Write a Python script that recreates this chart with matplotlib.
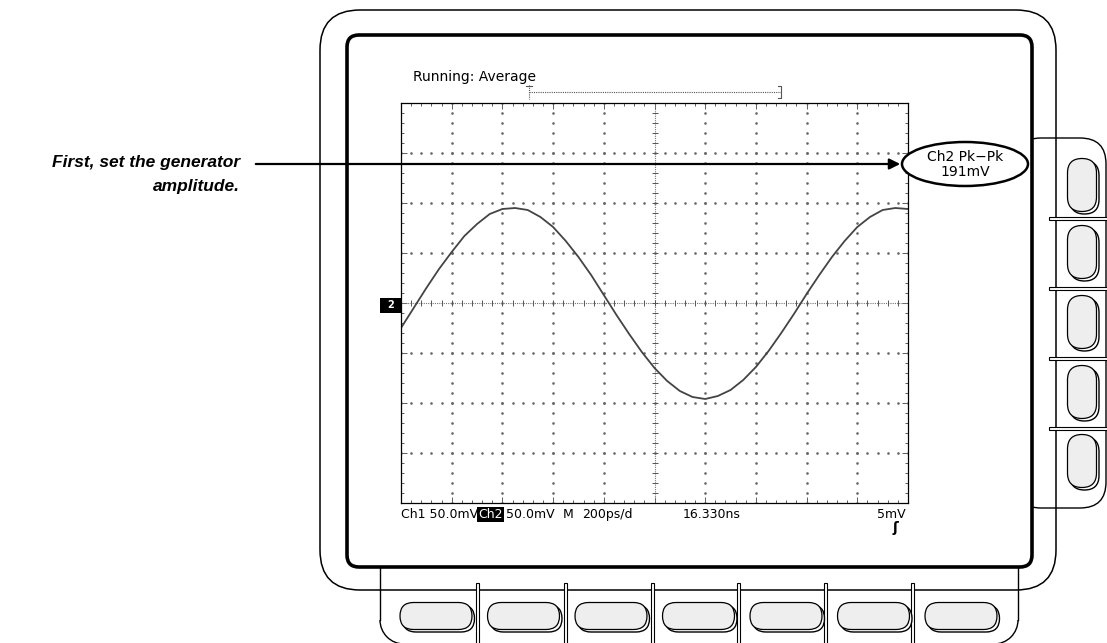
import matplotlib.pyplot as plt
import numpy as np
from matplotlib.patches import FancyBboxPatch, Ellipse, Rectangle, Arc

# Ch2 trace: 200 ps/div, 50 mV/div
time_ps = np.arange(0, 2001, 50)
ch2_mv = [-25, -5, 15, 34, 51, 67, 79, 89, 94, 95, 93, 86, 76, 62, 46, 28, 8,
          -12, -31, -49, -65, -78, -88, -94, -96, -93, -87, -77, -64, -48, -30,
          -11, 9, 28, 46, 62, 76, 86, 93, 95, 94]

acq_label = "Running: Average"
ch1_label = "Ch1 50.0mV"
ch2_scale = "50.0mV"
time_scale = "200ps/d"
delay_label = "16.330ns"
trig_level = "5mV"
meas_label = "Ch2 Pk\u2212Pk"
meas_value = "191mV"
callout_lines = ["First, set the generator", "amplitude."]

W, H = 1107, 643
fig = plt.figure(figsize=(W / 100, H / 100), dpi=100)
fig.patch.set_facecolor("white")

# background layer in pixel units for the instrument outline
bg = fig.add_axes([0, 0, 1, 1])
bg.set_xlim(0, W)
bg.set_ylim(H, 0)
bg.axis("off")


def rbox(ax, x0, y0, x1, y1, r, lw, fc="none", z=1):
    p = FancyBboxPatch((x0, y0), x1 - x0, y1 - y0,
                       boxstyle=f"round,pad=0,rounding_size={r}",
                       lw=lw, ec="black", fc=fc, zorder=z)
    ax.add_patch(p)


def pill(ax, cx, cy, w, h):
    r = min(w, h) / 2
    rbox(ax, cx - w / 2 + 2.5, cy - h / 2 + 2.5, cx + w / 2 + 2.5, cy + h / 2 + 2.5, r, 1.0, fc="white", z=5)
    rbox(ax, cx - w / 2, cy - h / 2, cx + w / 2, cy + h / 2, r, 0.9, fc="#eeeeee", z=6)


# outer case and side button panel
rbox(bg, 320, 10, 1056, 590, 40, 1.1, z=2)
rbox(bg, 1015, 138, 1106, 508, 26, 1.0, z=1)

# bottom button panel, runs off the lower edge
bl, br, rr = 380, 1018, 24
bg.plot([bl, bl], [560, 620], color="black", lw=1.0, zorder=1)
bg.plot([br, br], [560, 620], color="black", lw=1.0, zorder=1)
bg.add_patch(Arc((bl + rr, 620), 2 * rr, 2 * rr, theta1=90, theta2=180, lw=1.0, zorder=1))
bg.add_patch(Arc((br - rr, 620), 2 * rr, 2 * rr, theta1=0, theta2=90, lw=1.0, zorder=1))

# inner bezel
rbox(bg, 347, 35, 1032, 567, 12, 2.6, fc="white", z=3)

for x in [477, 565, 652, 738, 825, 912]:
    bg.add_patch(Rectangle((x - 1.5, 583), 3, 70, lw=0.8, ec="black", fc="white", zorder=4))
for y in [218, 288, 358, 428]:
    bg.add_patch(Rectangle((1049, y - 1.5), 70, 3, lw=0.8, ec="black", fc="white", zorder=4))

for i in range(7):
    pill(bg, 436 + 87.5 * i, 616, 72, 27)
for cy in [185, 252, 322, 392, 461]:
    pill(bg, 1082, cy, 29, 53)

# record view bracket above the graticule
bg.plot([529, 781], [92, 92], color="#555555", lw=0.8, ls=(0, (1, 1)), zorder=5)
bg.plot([529, 529], [85, 99], color="#555555", lw=0.8, ls=(0, (1, 1)), zorder=5)
bg.plot([526, 532], [86, 86], color="#555555", lw=0.8, zorder=5)
bg.plot([778, 781, 781, 778], [86, 86, 98, 98], color="#555555", lw=0.8, zorder=5)
bg.text(413, 77, acq_label, fontsize=10, va="center", ha="left", zorder=5)

# graticule: 10 x 8 divisions
scr = fig.add_axes([401 / W, 1 - 503 / H, 507 / W, 400 / H])
scr.set_xlim(0, 2000)
scr.set_ylim(-200, 200)
scr.set_xticks(np.arange(0, 2001, 200))
scr.set_xticks(np.arange(0, 2001, 40), minor=True)
scr.set_yticks(np.arange(-200, 201, 50))
scr.set_yticks(np.arange(-200, 201, 10), minor=True)
scr.tick_params(which="both", direction="in", top=True, right=True,
                labelbottom=False, labelleft=False, color="#444444", width=0.6)
scr.tick_params(which="major", length=4)
scr.tick_params(which="minor", length=2)
for s in scr.spines.values():
    s.set_linewidth(0.9)

minor_x = np.arange(0, 2001, 40)
minor_y = np.arange(-200, 201, 10)
for gx in range(200, 2000, 200):
    if gx != 1000:
        scr.plot(np.full(len(minor_y), gx), minor_y, ls="none", marker="s", ms=0.8, color="#666666")
for gy in range(-150, 200, 50):
    if gy != 0:
        scr.plot(minor_x, np.full(len(minor_x), gy), ls="none", marker="s", ms=0.8, color="#666666")

scr.axvline(1000, color="#777777", lw=0.8, ls=(0, (1, 1)))
scr.axhline(0, color="#777777", lw=0.8, ls=(0, (1, 1)))
scr.plot(minor_x, np.zeros(len(minor_x)), ls="none", marker="|", ms=4, mew=0.7, color="#555555")
scr.plot(np.full(len(minor_y), 1000), minor_y, ls="none", marker="_", ms=4, mew=0.7, color="#555555")

scr.plot(time_ps, ch2_mv, color="#444444", lw=1.3)

# overlay layer for labels and callout
top = fig.add_axes([0, 0, 1, 1])
top.set_xlim(0, W)
top.set_ylim(H, 0)
top.axis("off")
top.patch.set_alpha(0)

# channel 2 ground marker
top.add_patch(Rectangle((380, 298), 21, 15, fc="black", ec="none", zorder=5))
top.text(390.5, 305.5, "2", color="white", fontsize=7, fontweight="bold",
         ha="center", va="center", zorder=6)

# status line
sy = 518
fs = 9
top.text(401, sy, ch1_label, fontsize=fs, va="baseline")
top.text(478, sy, "Ch2", fontsize=fs, va="baseline", color="white",
         bbox=dict(boxstyle="square,pad=0.08", fc="black", ec="none"))
top.text(506, sy, ch2_scale, fontsize=fs, va="baseline")
top.text(563, sy, "M", fontsize=fs, va="baseline")
top.text(582, sy, time_scale, fontsize=fs, va="baseline")
top.text(683, sy, delay_label, fontsize=fs, va="baseline")
top.text(906, sy, trig_level, fontsize=fs, va="baseline", ha="right")
top.text(895, 528, "\u0283", fontsize=10, va="center", ha="center", fontweight="bold")

# callout
top.add_patch(Ellipse((965, 164), 126, 44, fc="white", ec="black", lw=1.8, zorder=5))
top.text(965, 157, meas_label, fontsize=10, ha="center", va="center", zorder=6)
top.text(965, 172, meas_value, fontsize=10, ha="center", va="center", zorder=6)
top.annotate("", xy=(903, 164), xytext=(253, 164),
             arrowprops=dict(arrowstyle="-|>", lw=1.6, color="black", mutation_scale=16),
             zorder=6)
top.text(240, 162, callout_lines[0], fontsize=12.5, fontweight="bold", style="italic",
         family="Liberation Sans", ha="right", va="center")
top.text(240, 186, callout_lines[1], fontsize=12.5, fontweight="bold", style="italic",
         family="Liberation Sans", ha="right", va="center")

plt.savefig("out.png", dpi=100, facecolor=fig.get_facecolor())
plt.close()
